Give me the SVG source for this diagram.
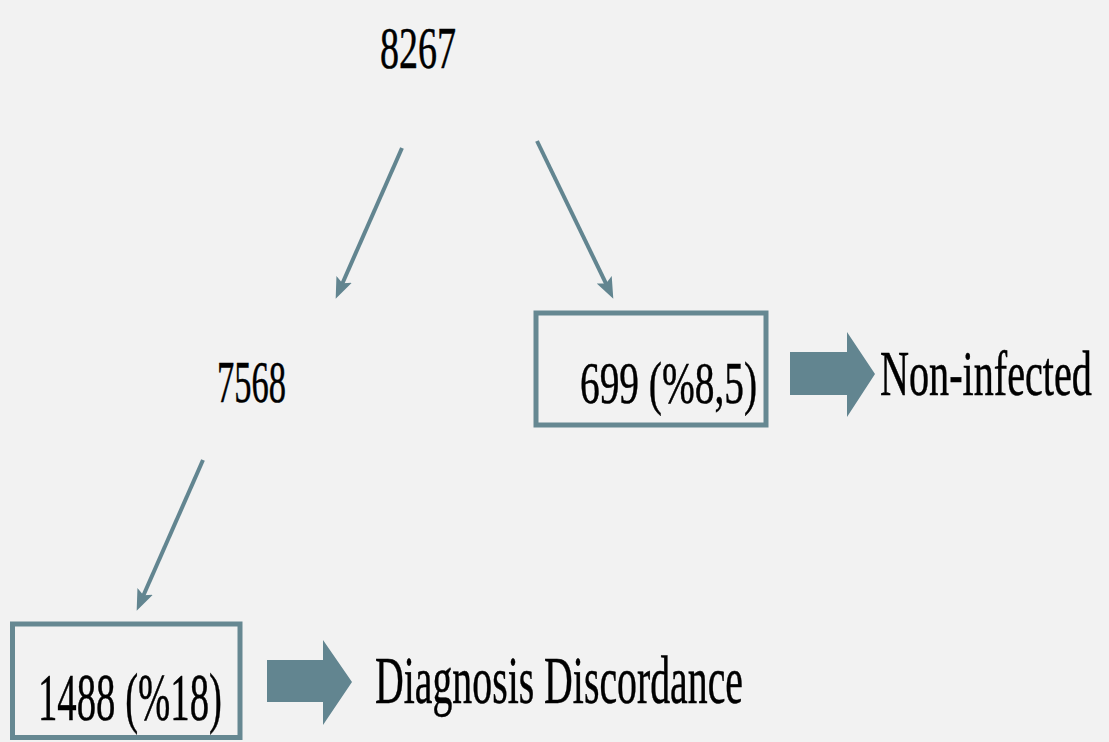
<svg xmlns="http://www.w3.org/2000/svg" width="1109" height="742" viewBox="0 0 1109 742">
<style>
.bg{fill:#f2f2f2}
.t{font-family:"Liberation Serif","Times New Roman",serif;fill:#000;stroke:#000;stroke-width:0.5}
.box{fill:none;stroke:#668892;stroke-width:5}
.blk{fill:#628590}
.con{stroke:#628590;stroke-width:4;fill:none}
</style>
<defs>
<marker id="ah" viewBox="0 0 20 16" markerWidth="21" markerHeight="17" markerUnits="userSpaceOnUse" refX="6" refY="8" orient="auto">
<path d="M0,0 L20,8 L0,16 L4,8 z" fill="#628590"/>
</marker>
</defs>
<rect class="bg" x="0" y="0" width="1109" height="742"/>
<g id="connectors">
<line class="con" x1="402" y1="148" x2="341.6" y2="285.2" marker-end="url(#ah)"/>
<line class="con" x1="537" y1="141" x2="606.9" y2="285.4" marker-end="url(#ah)"/>
<line class="con" x1="203" y1="460" x2="142.6" y2="597.2" marker-end="url(#ah)"/>
<polygon class="blk" points="790,352 847,352 847,332 875,374 847,417 847,395 790,395"/>
<polygon class="blk" points="267,660 323,660 323,640 352,682 323,725 323,702 267,702"/>
</g>
<g id="n8267">
<text class="t" x="380" y="68" font-size="59" textLength="76" lengthAdjust="spacingAndGlyphs">8267</text>
</g>
<g id="n7568">
<text class="t" x="217" y="402" font-size="60" textLength="69" lengthAdjust="spacingAndGlyphs">7568</text>
</g>
<g id="n699">
<rect class="box" x="536" y="313" width="230" height="112"/>
<text class="t" x="580" y="403" font-size="59" textLength="177" lengthAdjust="spacingAndGlyphs">699 (%8,5)</text>
</g>
<g id="nNonInfected">
<text class="t" transform="scale(0.64,1)" x="1375" y="395" font-size="63" textLength="331" lengthAdjust="spacingAndGlyphs">Non-infected</text>
</g>
<g id="n1488">
<rect class="box" x="12.5" y="624" width="227.5" height="113.5"/>
<text class="t" x="38" y="720" font-size="68" textLength="184" lengthAdjust="spacingAndGlyphs">1488 (%18)</text>
</g>
<g id="nDiagnosis">
<text class="t" x="375" y="703" font-size="67" textLength="368" lengthAdjust="spacingAndGlyphs">Diagnosis Discordance</text>
</g>
</svg>
